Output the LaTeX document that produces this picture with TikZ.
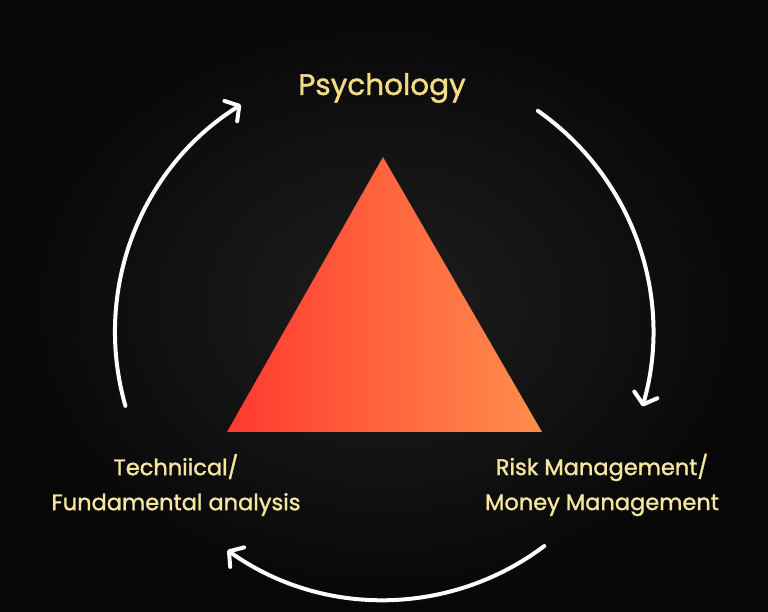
\documentclass[tikz,border=0pt]{standalone}
\usepackage{fontspec}
\setmainfont{Poppins}
\newfontfamily\labelfont{Poppins}[FakeBold=1.3]
\usetikzlibrary{arrows.meta}
\definecolor{bgin}{HTML}{1E1E1E}
\definecolor{bgout}{HTML}{070707}
\definecolor{labelc}{HTML}{F7E6A0}
\definecolor{psyc}{HTML}{F4DC84}
\definecolor{trileft}{HTML}{FF3A30}
\definecolor{triright}{HTML}{FF8E4C}
\tikzset{
  cyclearrow/.style={draw=white, line width=4pt, line cap=round,
    -{Straight Barb[length=10pt,width=24pt,line cap=round,line join=round]}},
  labeltext/.style={text=labelc, font=\labelfont\fontsize{22.5}{35}\selectfont, align=center, inner sep=0pt},
}
\begin{document}
\begin{tikzpicture}[x=1pt,y=1pt]
\useasboundingbox (0,0) rectangle (768,612);
\fill[inner color=bgin, outer color=bgout] (0,0) rectangle (768,612);
% triangle
\coordinate (apex) at (383,455);
\coordinate (bl) at (227,180);
\coordinate (br) at (542,180);
\shade[left color=trileft, right color=triright] (apex) -- (br) -- (bl) -- cycle;
% labels
\node[text=psyc, font=\labelfont\fontsize{29.5}{34}\selectfont, inner sep=0pt] (psy) at (382,524) {Psychology};
\node[labeltext] (tech) at (176,127) {Techniical/\\Fundamental analysis};
\node[labeltext] (risk) at (602,127) {Risk Management/\\Money Management};
% cycle arrows
\coordinate (c) at (383,280);
\draw[cyclearrow] (c) ++(196:268) coordinate (l1) arc[start angle=196, end angle=122, radius=268];
\draw[cyclearrow] (c) ++(55:270) coordinate (r1) arc[start angle=55, end angle=-16, radius=270];
\draw[cyclearrow] (c) ++(-53:268) coordinate (b1) arc[start angle=-53, end angle=-125.5, radius=268];
\end{tikzpicture}
\end{document}
